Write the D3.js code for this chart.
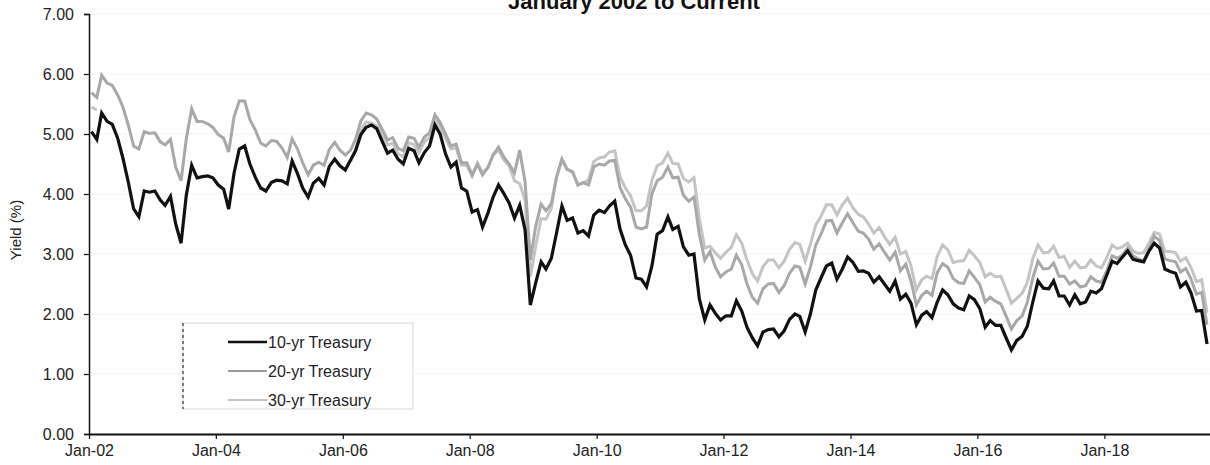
<!DOCTYPE html>
<html>
<head>
<meta charset="utf-8">
<script src="https://cdn.jsdelivr.net/npm/d3@7"></script>
<style>
  html, body { margin: 0; padding: 0; background: #fff; }
  svg { display: block; font-family: "Liberation Sans", Arial, sans-serif; }
</style>
</head>
<body>
<svg id="chart" width="1210" height="465"></svg>
<script>
// ---- Data (monthly, Jan 2002 – Aug 2019) ----
const startMonth = "2002-01";
const tenYr = [
  5.04,4.91,5.35,5.21,5.16,4.93,4.60,4.20,3.75,3.62,4.05,4.03,
  4.05,3.90,3.81,3.96,3.50,3.18,3.98,4.48,4.27,4.29,4.30,4.27,
  4.15,4.08,3.75,4.35,4.75,4.80,4.50,4.28,4.10,4.05,4.19,4.23,
  4.22,4.17,4.55,4.34,4.10,3.95,4.18,4.26,4.15,4.46,4.58,4.47,
  4.40,4.57,4.72,4.99,5.11,5.15,5.09,4.88,4.68,4.73,4.58,4.50,
  4.76,4.72,4.52,4.69,4.80,5.15,5.00,4.67,4.45,4.53,4.10,4.05,
  3.70,3.74,3.45,3.68,3.95,4.15,4.01,3.85,3.60,3.81,3.40,2.15,
  2.52,2.87,2.75,2.93,3.35,3.80,3.56,3.60,3.35,3.39,3.30,3.65,
  3.73,3.69,3.80,3.88,3.42,3.15,2.98,2.60,2.58,2.45,2.80,3.33,
  3.39,3.62,3.41,3.46,3.12,2.98,3.00,2.25,1.90,2.15,2.01,1.90,
  1.97,1.97,2.22,2.05,1.78,1.60,1.47,1.70,1.74,1.75,1.62,1.72,
  1.91,2.00,1.96,1.70,2.00,2.40,2.60,2.80,2.85,2.58,2.75,2.95,
  2.86,2.71,2.72,2.68,2.53,2.62,2.50,2.38,2.55,2.25,2.33,2.18,
  1.82,1.98,2.04,1.94,2.20,2.40,2.32,2.17,2.10,2.07,2.30,2.24,
  2.09,1.78,1.89,1.81,1.81,1.60,1.40,1.56,1.63,1.80,2.20,2.55,
  2.43,2.42,2.55,2.30,2.30,2.15,2.32,2.17,2.20,2.38,2.35,2.42,
  2.65,2.88,2.84,2.95,3.05,2.91,2.89,2.87,3.05,3.18,3.10,2.75,
  2.71,2.68,2.45,2.53,2.35,2.05,2.06,1.50
];
const twentyYr = [
  5.69,5.61,5.98,5.85,5.81,5.65,5.45,5.15,4.80,4.75,5.04,5.01,
  5.02,4.87,4.82,4.91,4.45,4.22,4.92,5.42,5.21,5.21,5.17,5.11,
  4.99,4.93,4.70,5.29,5.55,5.55,5.24,5.07,4.85,4.80,4.89,4.88,
  4.77,4.61,4.92,4.75,4.52,4.32,4.48,4.53,4.48,4.74,4.86,4.73,
  4.65,4.73,4.91,5.22,5.35,5.32,5.25,5.08,4.90,4.94,4.76,4.72,
  4.95,4.93,4.78,4.95,5.02,5.32,5.19,5.00,4.80,4.83,4.52,4.52,
  4.32,4.49,4.32,4.44,4.65,4.78,4.62,4.50,4.35,4.73,4.20,2.90,
  3.46,3.83,3.72,3.84,4.28,4.58,4.41,4.37,4.15,4.19,4.15,4.45,
  4.50,4.48,4.55,4.56,4.11,3.92,3.78,3.45,3.42,3.45,4.00,4.22,
  4.28,4.45,4.27,4.28,3.98,3.88,3.95,3.32,2.90,3.04,2.78,2.62,
  2.70,2.75,2.98,2.82,2.50,2.28,2.18,2.42,2.50,2.51,2.36,2.47,
  2.68,2.80,2.78,2.50,2.78,3.15,3.33,3.55,3.56,3.35,3.52,3.67,
  3.52,3.38,3.35,3.25,3.08,3.17,3.03,2.90,3.03,2.72,2.83,2.55,
  2.15,2.31,2.38,2.31,2.69,2.84,2.78,2.59,2.52,2.51,2.72,2.61,
  2.49,2.20,2.28,2.21,2.17,1.96,1.75,1.89,1.97,2.20,2.60,2.88,
  2.75,2.76,2.85,2.63,2.63,2.50,2.55,2.45,2.47,2.62,2.55,2.53,
  2.72,2.97,2.93,2.98,3.10,2.97,2.92,2.88,3.08,3.30,3.22,2.92,
  2.89,2.87,2.70,2.76,2.58,2.33,2.36,1.82
];
// 30-yr series: not published Mar 2002 – Jan 2006 (null)
const thirtyYr = [
  5.45,5.40,null,null,null,null,null,null,null,null,null,null,
  null,null,null,null,null,null,null,null,null,null,null,null,
  null,null,null,null,null,null,null,null,null,null,null,null,
  null,null,null,null,null,null,null,null,null,null,null,null,
  null,4.54,4.73,5.06,5.20,5.18,5.13,5.00,4.82,4.85,4.67,4.62,
  4.85,4.82,4.69,4.87,4.94,5.23,5.11,4.93,4.75,4.77,4.48,4.48,
  4.30,4.52,4.35,4.44,4.65,4.73,4.57,4.47,4.22,4.17,3.90,2.62,
  3.13,3.59,3.58,3.76,4.29,4.58,4.41,4.37,4.15,4.19,4.23,4.54,
  4.60,4.62,4.70,4.72,4.29,4.10,3.97,3.72,3.72,3.80,4.23,4.47,
  4.52,4.68,4.51,4.50,4.26,4.20,4.27,3.58,3.10,3.13,3.02,2.93,
  3.03,3.11,3.32,3.18,2.90,2.67,2.55,2.79,2.90,2.90,2.77,2.88,
  3.08,3.19,3.16,2.88,3.16,3.48,3.63,3.82,3.82,3.65,3.82,3.93,
  3.77,3.66,3.62,3.50,3.35,3.44,3.29,3.16,3.28,3.00,3.04,2.80,
  2.40,2.57,2.63,2.59,2.96,3.15,3.07,2.86,2.88,2.89,3.06,2.97,
  2.86,2.62,2.68,2.62,2.63,2.41,2.18,2.26,2.35,2.53,2.92,3.15,
  3.02,3.03,3.13,2.94,2.96,2.78,2.88,2.77,2.78,2.90,2.80,2.77,
  2.94,3.15,3.09,3.12,3.18,3.05,3.01,3.02,3.18,3.36,3.33,3.04,
  3.04,3.02,2.88,2.94,2.77,2.54,2.57,2.02
];
const seriesNames = ["10-yr Treasury", "20-yr Treasury", "30-yr Treasury"];
const seriesColors = ["#111111", "#a8a8a8", "#c4c4c4"];
const yTicks = [0, 1, 2, 3, 4, 5, 6, 7];
const xTickYears = [2002, 2004, 2006, 2008, 2010, 2012, 2014, 2016, 2018];
const titleText = "January 2002 to Current";
const yTitle = "Yield (%)";

// ---- Layout ----
const svg = d3.select("#chart");
const margin = { left: 89, right: 0, top: 14, bottom: 31 };
const W = 1210, H = 465;

const parseMonth = d3.timeParse("%Y-%m");
const dates = tenYr.map((_, i) => d3.timeDay.offset(d3.timeMonth.offset(parseMonth(startMonth), i), 14));

const x = d3.scaleTime()
  .domain([new Date(2002, 0, 1), new Date(2019, 8, 1)])
  .range([margin.left, W - margin.right]);
const y = d3.scaleLinear().domain([0, 7]).range([H - margin.bottom, margin.top]);

// faint gridlines
svg.append("g").selectAll("line").data(yTicks.slice(1)).join("line")
  .attr("x1", margin.left).attr("x2", W)
  .attr("y1", d => y(d)).attr("y2", d => y(d))
  .attr("stroke", "#f3f3f3").attr("stroke-width", 1);

// title (partially cut at top, as in the original scan)
svg.append("text")
  .attr("x", 634).attr("y", 9)
  .attr("text-anchor", "middle")
  .attr("font-size", 22).attr("font-weight", "bold").attr("fill", "#111")
  .text(titleText);

// lines (draw 30 then 20 then 10)
const allSeries = [tenYr, twentyYr, thirtyYr];
const line = d3.line()
  .defined(d => d.v != null)
  .x(d => x(d.date)).y(d => y(d.v))
  .curve(d3.curveLinear);

[2, 1, 0].forEach(k => {
  const pts = allSeries[k].map((v, i) => ({ date: dates[i], v }));
  svg.append("path")
    .datum(pts)
    .attr("fill", "none")
    .attr("stroke", seriesColors[k])
    .attr("stroke-width", k === 0 ? 3.2 : 3)
    .attr("stroke-linejoin", "miter")
    .attr("d", line);
});

// y axis
const yAxis = d3.axisLeft(y).tickValues(yTicks).tickFormat(d3.format(".2f")).tickSize(5).tickPadding(10);
const gy = svg.append("g").attr("transform", `translate(${margin.left},0)`).call(yAxis);
gy.select(".domain").attr("stroke", "#111").attr("stroke-width", 1.5);
gy.selectAll(".tick line").attr("stroke", "#111").attr("stroke-width", 1.2);
gy.selectAll("text").attr("font-size", 16).attr("fill", "#222")
  .attr("font-family", "'Liberation Sans', Arial, sans-serif");

// x axis
const xAxis = d3.axisBottom(x)
  .tickValues(xTickYears.map(yr => new Date(yr, 0, 1)))
  .tickFormat(d3.timeFormat("Jan-%y"))
  .tickSize(5).tickPadding(6).tickSizeOuter(0);
const gx = svg.append("g").attr("transform", `translate(0,${y(0)})`).call(xAxis);
gx.select(".domain").attr("stroke", "#111").attr("stroke-width", 2);
gx.selectAll(".tick line").attr("stroke", "#111").attr("stroke-width", 1.2);
gx.selectAll("text").attr("font-size", 16).attr("fill", "#222")
  .attr("font-family", "'Liberation Sans', Arial, sans-serif");

// y title
svg.append("text")
  .attr("transform", `translate(21,${(y(0) + y(7)) / 2 + 6}) rotate(-90)`)
  .attr("text-anchor", "middle")
  .attr("font-size", 15).attr("fill", "#222")
  .text(yTitle);

// legend
const lg = svg.append("g");
const lgX = 183, lgY = 323, lgW = 230, lgH = 86;
lg.append("rect").attr("x", lgX).attr("y", lgY).attr("width", lgW).attr("height", lgH)
  .attr("fill", "#fff").attr("stroke", "#d6d6d6").attr("stroke-width", 1);
lg.append("line").attr("x1", lgX).attr("x2", lgX).attr("y1", lgY).attr("y2", lgY + lgH)
  .attr("stroke", "#333").attr("stroke-width", 1.2).attr("stroke-dasharray", "3,3");
seriesNames.forEach((name, i) => {
  const cy = lgY + 19 + i * 29;
  lg.append("line").attr("x1", 228).attr("x2", 267).attr("y1", cy).attr("y2", cy)
    .attr("stroke", i === 1 ? "#9a9a9a" : seriesColors[i])
    .attr("stroke-width", i === 0 ? 2.5 : 1.8);
  lg.append("text").attr("x", 268).attr("y", cy + 6)
    .attr("font-size", 16).attr("fill", "#222").text(name);
});
</script>
</body>
</html>
